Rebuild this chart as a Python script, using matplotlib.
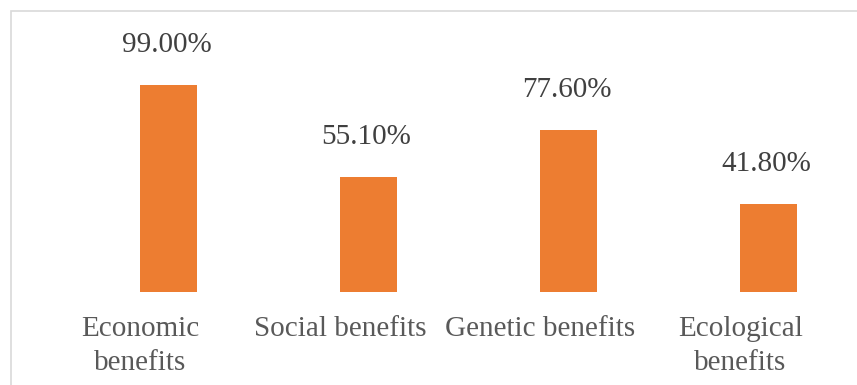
import matplotlib.pyplot as plt
from matplotlib.patches import Rectangle
from matplotlib.transforms import ScaledTranslation

categories = ["Economic\nbenefits", "Social benefits", "Genetic benefits", "Ecological\nbenefits"]
values = [99.0, 55.1, 77.6, 41.8]

W, H = 857, 385
fig = plt.figure(figsize=(W / 100, H / 100), dpi=100)
plt.rcParams['font.family'] = ['Liberation Serif', 'DejaVu Serif']

# outer chart frame (cropped on right and bottom)
fig.patches.append(Rectangle((11 / W, -0.5), 2.0, 1.5 - 11 / H,
                             transform=fig.transFigure, fill=False,
                             edgecolor='#D9D9D9', linewidth=1.2))

base = 385 - 291.7
ax = fig.add_axes([0, base / H, 1, 208.8 / H])
x = list(range(len(categories)))
bars = ax.bar(x, values, width=0.285, color='#ED7D31')
ax.set_xlim(-168.5 / 200, (W - 168.5) / 200)
ax.set_ylim(0, 100)

for xi, v in zip(x, values):
    ax.annotate(f"{v:.2f}%", (xi, v), xytext=(-1.5, 23.8), textcoords='offset points',
                ha='center', va='baseline', fontsize=21, color='#404040')

ax.set_xticks(x)
ax.set_xticklabels(categories, fontsize=21, color='#595959', linespacing=1.4)
ax.tick_params(axis='x', length=0, pad=17.5)
shift = ScaledTranslation(-28 / 100, 0, fig.dpi_scale_trans)
for lab in ax.get_xticklabels():
    lab.set_transform(lab.get_transform() + shift)
ax.set_yticks([])
for s in ax.spines.values():
    s.set_visible(False)
ax.patch.set_alpha(0)

fig.savefig('out.png', dpi=100)
